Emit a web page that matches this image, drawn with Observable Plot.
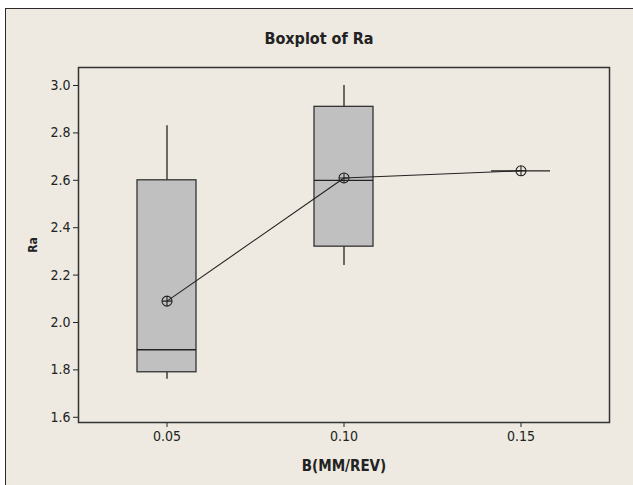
<!DOCTYPE html>
<html>
<head>
<meta charset="utf-8">
<script src="https://cdn.jsdelivr.net/npm/d3@7"></script>
<script src="https://cdn.jsdelivr.net/npm/@observablehq/plot@0.6"></script>
<style>
  html, body { margin: 0; padding: 0; background: #ffffff; }
  #wrap { position: relative; width: 633px; height: 485px; overflow: hidden; }
  #panel { position: absolute; left: 5px; top: 8px; width: 640px; height: 490px;
           background: #eeeae1; border: 1.5px solid #2a2a2a; box-sizing: border-box; }
  #title { position: absolute; left: 5px; width: 628px; top: 29px; text-align: center;
           font-family: "DejaVu Sans Condensed", "Liberation Sans Narrow", sans-serif;
           font-stretch: condensed; font-weight: bold; font-size: 16px; color: #222; }
  #chart { position: absolute; left: 0; top: 0; }
</style>
</head>
<body>
<div id="wrap">
  <div id="panel"></div>
  <div id="title">Boxplot of Ra</div>
  <div id="chart"></div>
</div>
<script>
// Data (Minitab boxplot, Ra by feed B)
const feeds = ["0.05", "0.10", "0.15"];
const whiskerLow = [1.76, 2.24, 2.64];
const q1 = [1.79, 2.32, 2.64];
const median = [1.885, 2.60, 2.64];
const q3 = [2.60, 2.91, 2.64];
const whiskerHigh = [2.83, 3.00, 2.64];
const means = [2.09, 2.61, 2.64];
const yTicks = [1.6, 1.8, 2.0, 2.2, 2.4, 2.6, 2.8, 3.0];

const rows = feeds.map((f, i) => ({
  feed: f, lo: whiskerLow[i], q1: q1[i], med: median[i], q3: q3[i], hi: whiskerHigh[i], mean: means[i]
}));

const meanSymbol = {
  draw(context, size) {
    const r = Math.sqrt(size / Math.PI);
    context.moveTo(r, 0);
    context.arc(0, 0, r, 0, 2 * Math.PI);
    context.moveTo(-r, 0); context.lineTo(r, 0);
    context.moveTo(0, -r); context.lineTo(0, r);
  }
};

const font = "'DejaVu Sans Condensed', 'Liberation Sans Narrow', sans-serif";

const chart = Plot.plot({
  width: 633,
  height: 485,
  marginLeft: 78,
  marginRight: 24,
  marginTop: 67,
  marginBottom: 63,
  style: { background: "transparent", fontFamily: font, color: "#222" },
  x: { type: "band", domain: feeds, paddingInner: 2 / 3, paddingOuter: 1 / 3 },
  y: { domain: [1.578, 3.076] },
  marks: [
    Plot.axisY({ ticks: yTicks, tickFormat: d3.format(".1f"), tickSize: 5, tickPadding: 3, label: null, fontSize: 14 }),
    Plot.axisY({ ticks: [], label: "Ra", labelArrow: "none", labelAnchor: "center", labelOffset: 50 }),
    Plot.axisX({ tickSize: 5, tickPadding: 4, label: null, fontSize: 14 }),
    Plot.axisX({ ticks: [], label: "B(MM/REV)", labelAnchor: "center", labelOffset: 48 }),
    Plot.ruleX(rows, { x: "feed", y1: "lo", y2: "q1", stroke: "#111", strokeWidth: 1.2 }),
    Plot.ruleX(rows, { x: "feed", y1: "q3", y2: "hi", stroke: "#111", strokeWidth: 1.2 }),
    Plot.barY(rows, { x: "feed", y1: "q1", y2: "q3", fill: "#c0c0c0", stroke: "#333", strokeWidth: 1.3 }),
    Plot.tickY(rows, { x: "feed", y: "med", stroke: "#222", strokeWidth: 1.3 }),
    Plot.line(rows, { x: "feed", y: "mean", stroke: "#222", strokeWidth: 1.1 }),
    Plot.dot(rows, { x: "feed", y: "mean", symbol: meanSymbol, r: 5, stroke: "#222", strokeWidth: 1.1, fill: "none" }),
    Plot.frame({ stroke: "#333", strokeWidth: 1.5 })
  ]
});

// Typography: larger tick labels and bold axis titles, as in the Minitab original
d3.select(chart).selectAll("g[aria-label]").each(function () {
  const lab = this.getAttribute("aria-label");
  if (lab.endsWith("tick label")) {
    this.setAttribute("font-size", "14");
    d3.select(this).selectAll("text").attr("font-size", "14").style("font-size", "14px");
  } else if (lab === "y-axis label") {
    d3.select(this).attr("font-size", "12").attr("font-weight", "bold");
  } else if (lab === "x-axis label") {
    d3.select(this).attr("font-size", "15").attr("font-weight", "bold");
  }
});
document.getElementById("chart").appendChild(chart);
</script>
</body>
</html>
